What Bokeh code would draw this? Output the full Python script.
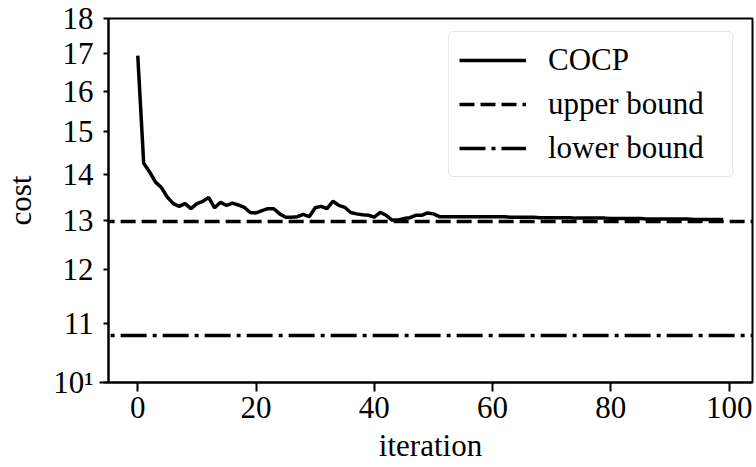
from bokeh.plotting import figure
from bokeh.models import Range1d, FixedTicker, Legend, LegendItem
from bokeh.embed import file_html
from bokeh.resources import INLINE

iterations = list(range(100))
cocp = [16.95, 14.25, 14.05, 13.82, 13.70, 13.49, 13.35, 13.29, 13.35, 13.24,
        13.35, 13.40, 13.48, 13.26, 13.38, 13.31, 13.36, 13.32, 13.27, 13.16,
        13.15, 13.20, 13.24, 13.24, 13.13, 13.06, 13.06, 13.07, 13.12, 13.07,
        13.26, 13.29, 13.24, 13.40, 13.31, 13.27, 13.16, 13.13, 13.11, 13.10,
        13.06, 13.16, 13.10, 13.00, 13.00, 13.03, 13.05, 13.10, 13.10, 13.15,
        13.13, 13.07, 13.07, 13.07, 13.07, 13.07, 13.07, 13.07, 13.07, 13.07,
        13.07, 13.07, 13.07, 13.06, 13.06, 13.06, 13.06, 13.06, 13.05, 13.05,
        13.05, 13.05, 13.05, 13.05, 13.04, 13.04, 13.04, 13.04, 13.04, 13.04,
        13.03, 13.03, 13.03, 13.03, 13.03, 13.03, 13.02, 13.02, 13.02, 13.02,
        13.02, 13.02, 13.02, 13.02, 13.01, 13.01, 13.01, 13.01, 13.01, 13.01]
upper_bound = 12.97
lower_bound = 10.79
x_ticks = [0, 20, 40, 60, 80, 100]
y_ticks = [10, 11, 12, 13, 14, 15, 16, 17, 18]
y_tick_labels = {10: "10¹", 11: "11", 12: "12", 13: "13", 14: "14",
                 15: "15", 16: "16", 17: "17", 18: "18"}

FONT = "Liberation Serif"
FS = "31px"

p = figure(width=756, height=467, output_backend="svg", toolbar_location=None,
           y_axis_type="log", x_range=Range1d(-4.95, 103.95), y_range=Range1d(10, 18),
           min_border_left=104, min_border_right=4, min_border_top=18, min_border_bottom=85)
p.background_fill_color = "white"
p.border_fill_color = "white"
p.outline_line_color = "black"
p.outline_line_width = 2
p.xgrid.visible = False
p.ygrid.visible = False

r_cocp = p.line(iterations, cocp, line_color="black", line_width=3.5)
r_up = p.line([-10, 110], [upper_bound, upper_bound], line_color="black", line_width=3.5,
              line_dash="15 6")
r_lo = p.line([-10, 110], [lower_bound, lower_bound], line_color="black", line_width=3.5,
              line_dash="26 6 4 6")

for ax in (p.xaxis[0], p.yaxis[0]):
    ax.axis_line_width = 2
    ax.major_tick_line_width = 2
    ax.minor_tick_line_width = 2
    ax.major_tick_in = 0
    ax.minor_tick_in = 0
    ax.major_label_text_font = FONT
    ax.major_label_text_font_size = FS
    ax.major_label_text_color = "black"
    ax.axis_label_text_font = FONT
    ax.axis_label_text_font_size = FS
    ax.axis_label_text_font_style = "normal"
    ax.axis_label_text_color = "black"

p.xaxis.ticker = FixedTicker(ticks=x_ticks)
p.xaxis.major_tick_out = 9
p.xaxis.major_label_standoff = 5
p.xaxis.axis_label = "iteration"
p.xaxis.axis_label_standoff = 7

p.yaxis.ticker = FixedTicker(ticks=y_ticks, minor_ticks=[10])
p.yaxis.major_label_overrides = y_tick_labels
p.yaxis.major_tick_out = 5
p.yaxis.minor_tick_out = 9
p.yaxis.major_label_standoff = 6
p.yaxis.axis_label = "cost"
p.yaxis.axis_label_standoff = 12

legend = Legend(items=[LegendItem(label="COCP", renderers=[r_cocp]),
                       LegendItem(label="upper bound", renderers=[r_up]),
                       LegendItem(label="lower bound", renderers=[r_lo])],
                location=(340, 205))
legend.label_text_font = FONT
legend.label_text_font_size = FS
legend.label_text_color = "black"
legend.glyph_width = 67
legend.glyph_height = 36
legend.label_height = 36
legend.label_width = 174
legend.label_standoff = 22
legend.spacing = 8
legend.padding = 10
legend.margin = 0
legend.border_line_color = "#d0d0d0"
legend.border_line_width = 1.5
legend.border_radius = 5
legend.background_fill_alpha = 0.8
p.add_layout(legend, "center")

open("out.html", "w").write(file_html(p, INLINE))
